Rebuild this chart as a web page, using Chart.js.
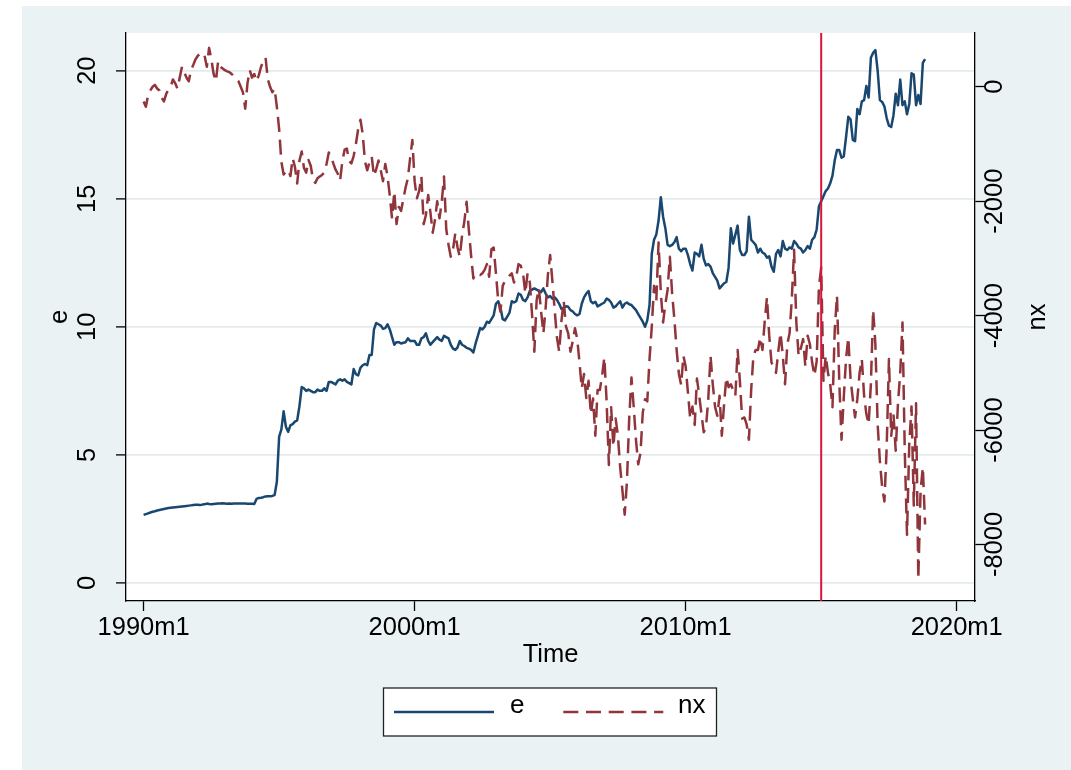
<!DOCTYPE html>
<html>
<head>
<meta charset="utf-8">
<script src="https://cdn.jsdelivr.net/npm/chart.js@4.4.1/dist/chart.umd.min.js"></script>
<style>
html,body{margin:0;padding:0;background:#fff;}
canvas{display:block;}
</style>
</head>
<body>
<canvas id="c" width="1071" height="770"></canvas>
<script>
// ---------------- DATA ----------------
// e : exchange rate (left axis), monthly from 1990m1
const eValues = [
  2.66, 2.69, 2.72, 2.75, 2.78, 2.80, 2.83, 2.85, 2.87, 2.89, 2.91, 2.93,
  2.94, 2.95, 2.96, 2.97, 2.98, 2.99, 3.00, 3.01, 3.02, 3.03, 3.04, 3.05,
  3.05, 3.04, 3.06, 3.07, 3.10, 3.08, 3.07, 3.08, 3.09, 3.10, 3.10, 3.11,
  3.10, 3.09, 3.10, 3.09, 3.10, 3.10, 3.10, 3.10, 3.10, 3.10, 3.09, 3.09,
  3.09, 3.08, 3.28, 3.32, 3.33, 3.35, 3.38, 3.39, 3.39, 3.40, 3.43, 3.95,
  5.70, 6.00, 6.70, 6.10, 5.90, 6.15, 6.20, 6.30, 6.35, 6.90, 7.65, 7.60,
  7.50, 7.55, 7.50, 7.45, 7.45, 7.55, 7.50, 7.50, 7.60, 7.50, 7.85, 7.85,
  7.80, 7.75, 7.90, 7.95, 7.90, 7.95, 7.85, 7.80, 7.75, 8.35, 8.15, 8.10,
  8.40, 8.50, 8.55, 8.50, 8.90, 8.90, 9.90, 10.15, 10.10, 10.05, 9.92, 9.95,
  10.10, 9.90, 9.60, 9.30, 9.40, 9.40, 9.35, 9.38, 9.40, 9.55, 9.45, 9.45,
  9.45, 9.30, 9.30, 9.55, 9.60, 9.75, 9.45, 9.30, 9.40, 9.50, 9.60, 9.50,
  9.45, 9.65, 9.60, 9.55, 9.30, 9.15, 9.10, 9.20, 9.45, 9.30, 9.25, 9.18,
  9.15, 9.10, 9.00, 9.35, 9.65, 9.95, 9.90, 10.00, 10.20, 10.15, 10.30, 10.45,
  10.90, 11.00, 10.75, 10.30, 10.25, 10.40, 10.55, 11.00, 10.95, 11.00, 11.30, 11.25,
  11.05, 11.00, 11.15, 11.40, 11.45, 11.50, 11.45, 11.40, 11.35, 11.50, 11.30, 11.15,
  11.20, 11.10, 11.15, 11.05, 10.90, 10.70, 10.75, 10.80, 10.78, 10.65, 10.60, 10.50,
  10.45, 10.50, 10.90, 11.15, 11.30, 11.40, 11.00, 10.92, 10.98, 10.80, 10.85, 10.90,
  10.95, 11.10, 11.05, 10.95, 10.75, 10.80, 10.90, 11.00, 10.75, 10.90, 10.95, 10.88,
  10.85, 10.75, 10.65, 10.50, 10.35, 10.20, 10.00, 10.25, 10.85, 12.85, 13.40, 13.60,
  14.15, 15.06, 14.30, 13.85, 13.20, 13.15, 13.20, 13.30, 13.50, 13.05, 12.95, 13.05,
  13.05, 12.80, 12.45, 12.20, 12.90, 12.85, 12.75, 13.20, 12.65, 12.40, 12.45, 12.35,
  12.10, 11.95, 11.80, 11.50, 11.60, 11.70, 11.75, 12.30, 13.85, 13.25, 13.60, 13.95,
  13.00, 12.80, 12.80, 12.95, 14.30, 13.40, 13.30, 13.20, 12.90, 13.05, 12.90, 12.85,
  12.70, 12.75, 12.35, 12.15, 12.85, 13.00, 12.75, 13.35, 13.05, 13.00, 13.10, 13.05,
  13.35, 13.25, 13.10, 13.05, 12.90, 13.00, 13.15, 13.05, 13.40, 13.50, 13.80, 14.70,
  14.90, 15.10, 15.30, 15.40, 15.60, 15.90, 16.50, 16.90, 16.90, 16.60, 16.65, 17.40,
  18.20, 18.10, 17.30, 17.25, 18.50, 18.30, 18.80, 18.85, 19.40, 18.95, 20.50, 20.70,
  20.80, 20.00, 18.85, 18.78, 18.60, 18.15, 17.85, 17.80, 18.25, 19.10, 18.65, 19.65,
  18.65, 18.80, 18.30, 18.70, 19.90, 19.85, 18.65, 19.05, 18.70, 20.30, 20.45
];
// nx : net exports (right axis), monthly from 1990m1
const nxValues = [
  -256, -350, -150, -64, 0, 32, -30, -64, -192, -256, -128, -40,
  0, 128, 60, -32, 160, 350, 255, 160, 96, 290, 383, 480,
  543, 575, 600, 543, 350, 680, 480, 224, 96, 447, 350, 320,
  290, 270, 255, 224, 180, 130, 96, 0, -100, -383, 64, 290,
  160, 224, 96, 200, 350, 447, 511, 128, 0, -96, -32, -350,
  -735, -1310, -1534, -1480, -1450, -1560, -1250, -1400, -1690, -1290, -1130, -1420,
  -1500, -1280, -1380, -1620, -1680, -1600, -1570, -1540, -1500, -1350, -1150, -1220,
  -1340, -1450, -1520, -1640, -1300, -1100, -1080, -1300, -1340, -1210, -1000, -740,
  -575, -820, -1300, -1460, -1320, -1220, -1560, -1440, -1290, -1460, -1650, -1350,
  -1560, -1900, -2300, -1830, -2400, -2100, -2170, -1960, -1760, -1600, -1250, -930,
  -1650, -1950, -1820, -1570, -2400, -2240, -1890, -2200, -2550, -2330, -2000, -2300,
  -2020, -1570, -2490, -2760, -2970, -2840, -2560, -2810, -2970, -2600, -2360, -2010,
  -2500, -2950, -3350, -3260, -3280, -3290, -3260, -3200, -3100, -3320, -2840, -2810,
  -3260, -3740, -3930, -3480, -3390, -3360, -3300, -3260, -3420, -3320, -3100, -3130,
  -3260, -3610, -3260, -3420, -3990, -4630, -3740, -3520, -3930, -4310, -3870, -3290,
  -2940, -3400, -3900, -4380, -4630, -4090, -3740, -4190, -4310, -4630, -4450, -4220,
  -4410, -4820, -5270, -5020, -5440, -5140, -5720, -5450, -6100, -5300, -5300, -5050,
  -4730, -5500, -6610, -5600, -6290, -5800, -6100, -6650, -7060, -7480, -6900, -5800,
  -5080, -5600, -6170, -6600, -6400, -5700, -5460, -5500, -4760, -4190, -3480, -3740,
  -2720, -3600, -4120, -3800, -3550, -2970, -3610, -4060, -4600, -5020, -5210, -4700,
  -4890, -5340, -5800, -5590, -5910, -5100, -5400, -5720, -6040, -5950, -5460, -4700,
  -5200, -5590, -5750, -5400, -6100, -5550, -5080, -5250, -5200, -5300, -5400, -4600,
  -5140, -5800, -5780, -5900, -6170, -5300, -4700, -4600, -4600, -4380, -4600, -4100,
  -3680, -4350, -4820, -4900, -5000, -4630, -4300, -4700, -5200, -4500, -4310, -3700,
  -2850, -4120, -4700, -4570, -4410, -4890, -4350, -4500, -4820, -5050, -4800, -3500,
  -3160, -5140, -4700, -5000, -5200, -5600, -4250, -3650, -5150, -6170, -5430, -4760,
  -4380, -5100, -5460, -5780, -5460, -5000, -4760, -5400, -5720, -5900, -5200, -3900,
  -4500, -5900, -6550, -7000, -7250, -6300, -4760, -6100, -5720, -6360, -5530, -5000,
  -4120, -6360, -7830, -6230, -5590, -7320, -5530, -8600, -7060, -6650, -7650
];
// time: month index since 1990m1
const startYear = 1990;
const monthIndex = eValues.map((_, i) => i);
const timeLabels = monthIndex.map(i => (startYear + Math.floor(i / 12)) + 'm' + (i % 12 + 1));
// tick positions / labels
const xTickValues = [0, 120, 240, 360];
const xTickLabels = ['1990m1', '2000m1', '2010m1', '2020m1'];
const eTicks = [0, 5, 10, 15, 20];
const nxTicks = [-8000, -6000, -4000, -2000, 0];
const xlineMonth = 300; // 2015m1
const seriesNames = ['e', 'nx'];

// ---------------- STYLE ----------------
const FONT = "'Liberation Sans', Arial, Helvetica, sans-serif";
const tickFont = { family: FONT, size: 25.5 };
Chart.defaults.font.family = FONT;
Chart.defaults.color = '#000';

const bgPlugin = {
  id: 'stataBg',
  beforeDraw(chart) {
    const { ctx, chartArea: a, width, height } = chart;
    ctx.save();
    ctx.fillStyle = '#ffffff';
    ctx.fillRect(0, 0, width, height);
    ctx.fillStyle = '#eaf2f3';
    ctx.fillRect(22, 6, width - 22, height - 6);
    ctx.fillStyle = '#ffffff';
    ctx.fillRect(a.left, a.top, a.right - a.left, a.bottom - a.top);
    ctx.restore();
  }
};

const xlinePlugin = {
  id: 'xline',
  afterDatasetsDraw(chart) {
    const { ctx, chartArea: a, scales } = chart;
    const px = scales.x.getPixelForValue(xlineMonth);
    ctx.save();
    ctx.strokeStyle = '#d5173e';
    ctx.lineWidth = 2;
    ctx.beginPath();
    ctx.moveTo(px, a.top);
    ctx.lineTo(px, a.bottom);
    ctx.stroke();
    ctx.restore();
  }
};

const extrasPlugin = {
  id: 'extras',
  afterDraw(chart) {
    const { ctx, chartArea: a, scales } = chart;
    ctx.save();
    // right axis title, reading bottom-to-top
    ctx.fillStyle = '#000';
    ctx.font = '25.5px ' + FONT;
    ctx.translate(scales.y2.left + 70, (a.top + a.bottom) / 2);
    ctx.rotate(-Math.PI / 2);
    ctx.textAlign = 'center';
    ctx.textBaseline = 'alphabetic';
    ctx.fillText('nx', 0, 0);
    ctx.restore();

    // legend box
    ctx.save();
    const bx = 383.5, by = 688, bw = 333, bh = 48;
    ctx.fillStyle = '#ffffff';
    ctx.fillRect(bx, by, bw, bh);
    ctx.strokeStyle = '#222';
    ctx.lineWidth = 1.3;
    ctx.strokeRect(bx, by, bw, bh);
    const keys = [{ x0: 394, tx: 510 }, { x0: 563.3, tx: 678 }];
    chart.data.datasets.forEach((ds, i) => {
      const k = keys[i];
      ctx.strokeStyle = ds.borderColor;
      ctx.lineWidth = ds.borderWidth;
      ctx.setLineDash(ds.borderDash || []);
      ctx.lineDashOffset = 0;
      ctx.beginPath();
      ctx.moveTo(k.x0, 712);
      ctx.lineTo(k.x0 + 100, 712);
      ctx.stroke();
      ctx.setLineDash([]);
      ctx.fillStyle = '#000';
      ctx.font = '26px ' + FONT;
      ctx.textAlign = 'left';
      ctx.textBaseline = 'alphabetic';
      ctx.fillText(ds.label, k.tx, 713);
    });
    ctx.restore();
  }
};

new Chart(document.getElementById('c'), {
  type: 'line',
  data: {
    datasets: [
      {
        label: seriesNames[0],
        data: monthIndex.map(i => ({ x: i, y: eValues[i] })),
        yAxisID: 'y',
        borderColor: '#1a476f',
        borderWidth: 2.5,
        pointRadius: 0,
        tension: 0,
        borderJoinStyle: 'round',
        fill: false,
        order: 2
      },
      {
        label: seriesNames[1],
        data: monthIndex.map(i => ({ x: i, y: nxValues[i] })),
        yAxisID: 'y2',
        borderColor: '#90353b',
        borderWidth: 2.5,
        borderDash: [15, 7.7],
        pointRadius: 0,
        tension: 0,
        borderJoinStyle: 'round',
        fill: false,
        order: 1
      }
    ]
  },
  options: {
    responsive: false,
    animation: false,
    devicePixelRatio: 1,
    layout: { padding: { left: 0, right: 0, top: 33, bottom: 99.9 } },
    plugins: { legend: { display: false }, tooltip: { enabled: false } },
    scales: {
      x: {
        type: 'linear',
        position: 'bottom',
        min: -7.79,
        max: 368.1,
        bounds: 'data',
        afterBuildTicks: s => { s.ticks = xTickValues.map(v => ({ value: v })); },
        afterFit: s => { s.height = 69.1; },
        grid: { drawOnChartArea: false, drawTicks: true, tickLength: 10, tickColor: '#000', tickWidth: 1.3 },
        border: { display: true, color: '#000', width: 1.3 },
        ticks: {
          font: tickFont, color: '#000', padding: 2, maxRotation: 0, minRotation: 0, autoSkip: false,
          callback: v => { const k = xTickValues.indexOf(v); return k >= 0 ? xTickLabels[k] : ''; }
        },
        title: { display: true, text: 'Time', font: tickFont, color: '#000', padding: { top: 0, bottom: 0 } }
      },
      y: {
        type: 'linear',
        position: 'left',
        min: -0.703,
        max: 21.47,
        bounds: 'data',
        afterBuildTicks: s => { s.ticks = eTicks.map(v => ({ value: v })); },
        afterFit: s => { s.width = 126; },
        grid: { color: '#e3ebed', lineWidth: 1.8, drawTicks: true, tickLength: 10, tickColor: '#000', tickWidth: 1.3 },
        border: { display: true, color: '#000', width: 1.3 },
        ticks: {
          font: tickFont, color: '#000', minRotation: 90, maxRotation: 90, crossAlign: 'center', padding: 13.8,
          callback: v => String(v)
        },
        title: { display: true, text: 'e', font: tickFont, color: '#000', padding: { top: 44.2, bottom: 0 } }
      },
      y2: {
        type: 'linear',
        position: 'right',
        min: -8988,
        max: 940,
        bounds: 'data',
        afterBuildTicks: s => { s.ticks = nxTicks.map(v => ({ value: v })); },
        afterFit: s => { s.width = 96; },
        grid: { drawOnChartArea: false, drawTicks: true, tickLength: 10, tickColor: '#000', tickWidth: 1.3 },
        border: { display: true, color: '#000', width: 1.3 },
        ticks: {
          font: tickFont, color: '#000', minRotation: 90, maxRotation: 90, crossAlign: 'center', padding: -22.3,
          callback: v => String(v)
        },
        title: { display: false }
      }
    }
  },
  plugins: [bgPlugin, xlinePlugin, extrasPlugin]
});
</script>
</body>
</html>
